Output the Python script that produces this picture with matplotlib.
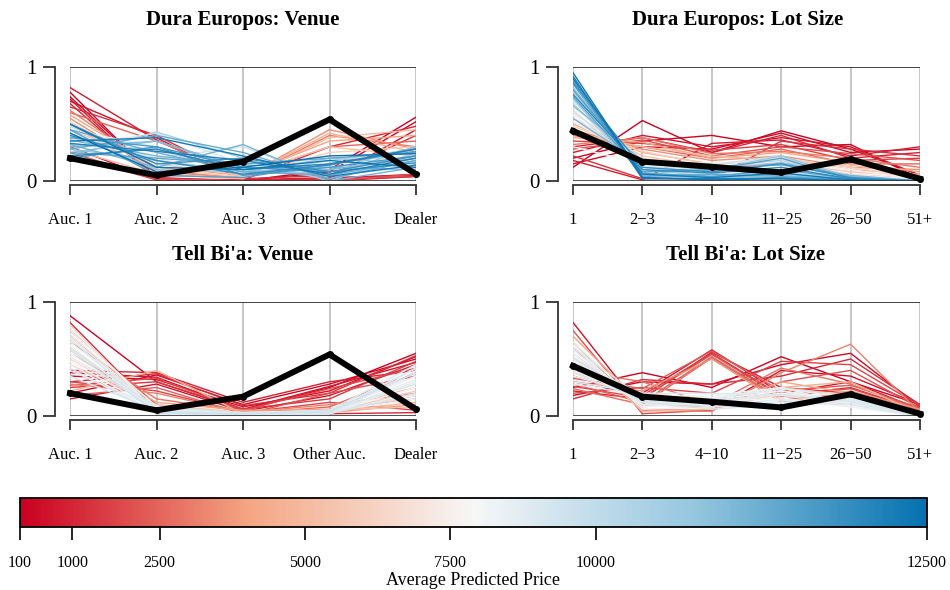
import numpy as np
import matplotlib
matplotlib.use('Agg')
import matplotlib.pyplot as plt
from matplotlib.colors import LinearSegmentedColormap, Normalize
from matplotlib.cm import ScalarMappable

plt.rcParams['font.family'] = ['Liberation Serif', 'DejaVu Serif']

venue_cats = ['Auc. 1', 'Auc. 2', 'Auc. 3', 'Other Auc.', 'Dealer']
lot_cats = ['1', '2\u22123', '4\u221210', '11\u221225', '26\u221250', '51+']

# observed shares (black line)
observed_venue = [0.20, 0.05, 0.17, 0.54, 0.06]
observed_lot = [0.44, 0.17, 0.125, 0.075, 0.19, 0.02]

# Dura Europos: venue  (Auc1, Auc2, Auc3, Other, Dealer)
dura_venue_price = [150, 300, 400, 500, 700, 800, 1000, 1200, 1600, 2000, 2500, 3000,
                    3500, 4000, 4500, 5000, 5500, 6000, 7000, 7800, 8500, 9000, 9500,
                    10000, 10500, 11000, 11500, 11800, 12000, 12200, 12500, 12600,
                    12800, 13000, 13200, 13500, 13800, 14000, 14200, 14500, 14800,
                    15000, 15200, 15500, 15600]
dura_venue_vals = [
    [0.78, 0.02, 0.00, 0.10, 0.56],
    [0.74, 0.03, 0.00, 0.08, 0.52],
    [0.30, 0.01, 0.00, 0.00, 0.04],
    [0.70, 0.38, 0.00, 0.02, 0.45],
    [0.72, 0.00, 0.00, 0.02, 0.06],
    [0.82, 0.36, 0.01, 0.03, 0.05],
    [0.68, 0.02, 0.01, 0.30, 0.48],
    [0.65, 0.40, 0.02, 0.05, 0.40],
    [0.22, 0.01, 0.00, 0.01, 0.04],
    [0.25, 0.02, 0.00, 0.00, 0.06],
    [0.60, 0.35, 0.05, 0.30, 0.35],
    [0.62, 0.10, 0.02, 0.40, 0.30],
    [0.55, 0.08, 0.03, 0.45, 0.28],
    [0.58, 0.12, 0.05, 0.35, 0.40],
    [0.50, 0.05, 0.03, 0.42, 0.25],
    [0.28, 0.06, 0.02, 0.38, 0.45],
    [0.45, 0.15, 0.05, 0.30, 0.22],
    [0.52, 0.10, 0.04, 0.25, 0.30],
    [0.40, 0.20, 0.06, 0.20, 0.20],
    [0.35, 0.25, 0.08, 0.15, 0.18],
    [0.45, 0.30, 0.10, 0.12, 0.15],
    [0.30, 0.42, 0.15, 0.05, 0.12],
    [0.38, 0.20, 0.30, 0.02, 0.20],
    [0.48, 0.15, 0.12, 0.10, 0.22],
    [0.32, 0.28, 0.05, 0.18, 0.28],
    [0.22, 0.43, 0.20, 0.00, 0.25],
    [0.42, 0.10, 0.08, 0.20, 0.15],
    [0.28, 0.18, 0.08, 0.10, 0.30],
    [0.25, 0.35, 0.10, 0.05, 0.30],
    [0.30, 0.35, 0.12, 0.10, 0.20],
    [0.36, 0.22, 0.14, 0.12, 0.10],
    [0.32, 0.12, 0.32, 0.00, 0.12],
    [0.45, 0.25, 0.08, 0.05, 0.18],
    [0.28, 0.40, 0.25, 0.02, 0.18],
    [0.25, 0.20, 0.15, 0.20, 0.25],
    [0.45, 0.05, 0.03, 0.15, 0.26],
    [0.38, 0.30, 0.05, 0.12, 0.22],
    [0.20, 0.30, 0.12, 0.08, 0.22],
    [0.50, 0.15, 0.20, 0.08, 0.16],
    [0.40, 0.18, 0.06, 0.14, 0.28],
    [0.22, 0.28, 0.10, 0.15, 0.28],
    [0.33, 0.26, 0.18, 0.06, 0.20],
    [0.35, 0.38, 0.22, 0.04, 0.14],
    [0.50, 0.12, 0.10, 0.18, 0.12],
    [0.42, 0.08, 0.12, 0.22, 0.24],
]

# Dura Europos: lot size  (1, 2-3, 4-10, 11-25, 26-50, 51+)
dura_lot_price = [150, 250, 400, 600, 800, 1000, 1300, 1600, 2000, 2500, 3000, 3500,
                  4000, 4500, 5000, 5500, 6000, 6500, 7000, 7500, 8000, 8500, 9000,
                  9500, 10000, 10500, 11000, 11500, 12000, 12500, 13000, 13500, 14000,
                  14500, 15000, 15500, 12300, 13300, 14300, 15300]
dura_lot_vals = [
    [0.12, 0.53, 0.25, 0.44, 0.28, 0.05],
    [0.20, 0.35, 0.40, 0.30, 0.32, 0.02],
    [0.15, 0.30, 0.28, 0.42, 0.25, 0.28],
    [0.25, 0.40, 0.30, 0.38, 0.30, 0.05],
    [0.18, 0.01, 0.33, 0.36, 0.22, 0.30],
    [0.30, 0.38, 0.25, 0.40, 0.20, 0.25],
    [0.22, 0.02, 0.02, 0.35, 0.28, 0.22],
    [0.35, 0.33, 0.27, 0.32, 0.18, 0.20],
    [0.28, 0.36, 0.22, 0.30, 0.24, 0.18],
    [0.40, 0.30, 0.20, 0.28, 0.15, 0.15],
    [0.32, 0.38, 0.24, 0.26, 0.20, 0.12],
    [0.45, 0.28, 0.18, 0.22, 0.12, 0.10],
    [0.38, 0.34, 0.20, 0.25, 0.16, 0.08],
    [0.50, 0.25, 0.15, 0.20, 0.10, 0.06],
    [0.42, 0.30, 0.22, 0.18, 0.14, 0.05],
    [0.55, 0.22, 0.12, 0.16, 0.08, 0.04],
    [0.48, 0.26, 0.14, 0.20, 0.12, 0.03],
    [0.60, 0.20, 0.10, 0.15, 0.06, 0.02],
    [0.52, 0.18, 0.12, 0.14, 0.05, 0.02],
    [0.30, 0.15, 0.16, 0.18, 0.10, 0.01],
    [0.65, 0.16, 0.08, 0.12, 0.05, 0.01],
    [0.58, 0.12, 0.15, 0.20, 0.04, 0.01],
    [0.70, 0.14, 0.06, 0.10, 0.03, 0.00],
    [0.62, 0.10, 0.14, 0.22, 0.04, 0.00],
    [0.75, 0.12, 0.05, 0.08, 0.02, 0.00],
    [0.68, 0.08, 0.12, 0.18, 0.03, 0.00],
    [0.78, 0.10, 0.04, 0.06, 0.02, 0.00],
    [0.72, 0.06, 0.10, 0.22, 0.03, 0.00],
    [0.82, 0.05, 0.03, 0.05, 0.01, 0.00],
    [0.55, 0.15, 0.12, 0.14, 0.05, 0.00],
    [0.85, 0.04, 0.06, 0.04, 0.01, 0.00],
    [0.80, 0.08, 0.10, 0.20, 0.02, 0.00],
    [0.88, 0.03, 0.02, 0.03, 0.01, 0.00],
    [0.76, 0.10, 0.07, 0.12, 0.02, 0.00],
    [0.92, 0.02, 0.02, 0.02, 0.00, 0.00],
    [0.95, 0.03, 0.01, 0.02, 0.00, 0.00],
    [0.66, 0.18, 0.09, 0.16, 0.04, 0.00],
    [0.74, 0.07, 0.04, 0.10, 0.02, 0.00],
    [0.86, 0.12, 0.08, 0.15, 0.03, 0.00],
    [0.90, 0.06, 0.03, 0.07, 0.01, 0.00],
]

# Tell Bi'a: venue
tell_venue_price = [200, 350, 500, 700, 900, 1100, 1400, 1700, 2000, 2400, 2800, 3200,
                    3600, 4000, 4500, 5000, 5500, 6000, 6500, 7000, 7500, 8000, 8300,
                    8600, 8900, 9200, 9500, 600, 1200, 1900, 8100, 8200, 8400, 8500,
                    8700, 8800, 9000, 9100]
tell_venue_vals = [
    [0.88, 0.30, 0.05, 0.25, 0.55],
    [0.20, 0.36, 0.10, 0.28, 0.50],
    [0.35, 0.32, 0.08, 0.22, 0.52],
    [0.15, 0.28, 0.04, 0.18, 0.45],
    [0.40, 0.38, 0.12, 0.30, 0.40],
    [0.82, 0.05, 0.02, 0.02, 0.03],
    [0.25, 0.30, 0.06, 0.15, 0.48],
    [0.30, 0.22, 0.03, 0.12, 0.05],
    [0.75, 0.10, 0.01, 0.20, 0.35],
    [0.18, 0.25, 0.02, 0.08, 0.38],
    [0.65, 0.15, 0.04, 0.05, 0.15],
    [0.28, 0.20, 0.03, 0.10, 0.20],
    [0.70, 0.08, 0.02, 0.03, 0.10],
    [0.55, 0.12, 0.05, 0.06, 0.25],
    [0.22, 0.40, 0.02, 0.04, 0.12],
    [0.60, 0.06, 0.01, 0.02, 0.18],
    [0.45, 0.10, 0.03, 0.05, 0.08],
    [0.80, 0.04, 0.02, 0.03, 0.22],
    [0.50, 0.08, 0.01, 0.02, 0.30],
    [0.72, 0.05, 0.02, 0.04, 0.35],
    [0.62, 0.03, 0.01, 0.03, 0.28],
    [0.55, 0.06, 0.02, 0.02, 0.40],
    [0.78, 0.04, 0.03, 0.04, 0.15],
    [0.40, 0.07, 0.01, 0.03, 0.32],
    [0.68, 0.02, 0.02, 0.05, 0.45],
    [0.35, 0.05, 0.00, 0.02, 0.20],
    [0.58, 0.03, 0.02, 0.04, 0.38],
    [0.38, 0.34, 0.06, 0.26, 0.47],
    [0.30, 0.37, 0.09, 0.20, 0.53],
    [0.27, 0.33, 0.05, 0.24, 0.42],
    [0.48, 0.05, 0.02, 0.03, 0.25],
    [0.75, 0.08, 0.01, 0.04, 0.42],
    [0.45, 0.03, 0.03, 0.05, 0.35],
    [0.65, 0.06, 0.01, 0.02, 0.30],
    [0.52, 0.09, 0.02, 0.04, 0.18],
    [0.70, 0.04, 0.02, 0.03, 0.38],
    [0.42, 0.02, 0.01, 0.05, 0.28],
    [0.60, 0.07, 0.03, 0.03, 0.42],
]

# Tell Bi'a: lot size
tell_lot_price = [200, 350, 500, 700, 900, 1100, 1400, 1700, 2000, 2400, 2800, 3200,
                  3600, 4000, 4500, 5000, 5500, 6000, 6500, 7000, 7500, 8000, 8300,
                  8600, 8900, 9200, 1900, 2200, 2600, 8100, 8200, 8400, 8500, 8700,
                  8800, 9000, 9100]
tell_lot_vals = [
    [0.25, 0.38, 0.25, 0.52, 0.30, 0.10],
    [0.18, 0.30, 0.28, 0.45, 0.55, 0.08],
    [0.82, 0.05, 0.05, 0.40, 0.35, 0.10],
    [0.30, 0.20, 0.58, 0.20, 0.30, 0.06],
    [0.22, 0.15, 0.56, 0.25, 0.20, 0.08],
    [0.15, 0.32, 0.28, 0.35, 0.50, 0.10],
    [0.35, 0.18, 0.55, 0.18, 0.25, 0.05],
    [0.20, 0.25, 0.20, 0.48, 0.45, 0.09],
    [0.75, 0.02, 0.05, 0.30, 0.40, 0.07],
    [0.28, 0.12, 0.52, 0.15, 0.20, 0.04],
    [0.40, 0.30, 0.10, 0.42, 0.28, 0.05],
    [0.65, 0.05, 0.04, 0.38, 0.63, 0.03],
    [0.30, 0.22, 0.50, 0.12, 0.22, 0.06],
    [0.70, 0.10, 0.08, 0.30, 0.20, 0.04],
    [0.45, 0.15, 0.12, 0.25, 0.30, 0.02],
    [0.60, 0.04, 0.06, 0.20, 0.15, 0.03],
    [0.50, 0.18, 0.10, 0.22, 0.12, 0.02],
    [0.38, 0.20, 0.15, 0.25, 0.18, 0.01],
    [0.55, 0.08, 0.12, 0.18, 0.10, 0.01],
    [0.42, 0.12, 0.10, 0.20, 0.15, 0.00],
    [0.62, 0.06, 0.08, 0.15, 0.08, 0.00],
    [0.48, 0.15, 0.14, 0.22, 0.12, 0.00],
    [0.35, 0.18, 0.18, 0.25, 0.10, 0.00],
    [0.58, 0.10, 0.10, 0.12, 0.14, 0.00],
    [0.30, 0.20, 0.20, 0.18, 0.15, 0.00],
    [0.52, 0.12, 0.06, 0.10, 0.18, 0.00],
    [0.26, 0.16, 0.54, 0.17, 0.24, 0.05],
    [0.33, 0.24, 0.57, 0.22, 0.27, 0.07],
    [0.24, 0.10, 0.51, 0.14, 0.21, 0.04],
    [0.45, 0.14, 0.16, 0.24, 0.16, 0.00],
    [0.65, 0.08, 0.12, 0.20, 0.12, 0.00],
    [0.40, 0.16, 0.12, 0.16, 0.08, 0.00],
    [0.55, 0.12, 0.18, 0.22, 0.14, 0.00],
    [0.28, 0.18, 0.10, 0.14, 0.12, 0.00],
    [0.50, 0.10, 0.15, 0.24, 0.17, 0.00],
    [0.38, 0.14, 0.08, 0.12, 0.10, 0.00],
    [0.60, 0.16, 0.14, 0.19, 0.13, 0.00],
]

cbar_ticks = [100, 1000, 2500, 5000, 7500, 10000, 15700]
cbar_labels = ['100', '1000', '2500', '5000', '7500', '10000', '12500']

cmap = LinearSegmentedColormap.from_list(
    'rdbu5', ['#CA0020', '#F4A582', '#F7F7F7', '#92C5DE', '#0571B0'])
norm = Normalize(vmin=100, vmax=15700)

W, H = 950, 590
fig = plt.figure(figsize=(W / 100, H / 100), dpi=100)


def px_rect(x0, x1, ytop, ybot):
    return [x0 / W, 1 - ybot / H, (x1 - x0) / W, (ybot - ytop) / H]


def draw_panel(rect, cats, prices, vals, observed, title, tx, ty):
    ax = fig.add_axes(rect)
    x = np.arange(len(cats))
    for c in x:
        ax.axvline(c, color='#bdbdbd', lw=1.2, zorder=0)
    for i in np.argsort(prices):
        ax.plot(x, vals[i], color=cmap(norm(prices[i])), lw=1.0, zorder=2)
    ax.axhline(0, color='#333333', lw=1.2, zorder=3)
    ax.axhline(1, color='#222222', lw=1.2, zorder=3)
    ax.plot(x, observed, color='black', lw=4.3, marker='o', ms=4,
            zorder=5, clip_on=False)
    ax.set_xlim(0, len(cats) - 1)
    ax.set_ylim(0, 1)
    ax.spines['top'].set_visible(False)
    ax.spines['right'].set_visible(False)
    ax.spines['left'].set_position(('outward', 10.8))
    ax.spines['bottom'].set_position(('outward', 3))
    for s in ('left', 'bottom'):
        ax.spines[s].set_linewidth(1.3)
        ax.spines[s].set_color('#333333')
    ax.set_yticks([0, 1])
    ax.set_yticklabels(['0', '1'], fontsize=15)
    ax.set_xticks(x)
    ax.set_xticklabels(cats, fontsize=12)
    ax.tick_params(axis='y', length=8.5, width=1.3, color='#333333', pad=5)
    ax.tick_params(axis='x', length=7.5, width=1.3, color='#333333', pad=12)
    fig.text(tx / W, 1 - ty / H, title, ha='center', va='center',
             fontsize=15, fontweight='bold')
    return ax


draw_panel(px_rect(70, 416, 67, 181), venue_cats, dura_venue_price, dura_venue_vals,
           observed_venue, 'Dura Europos: Venue', 243, 20)
draw_panel(px_rect(573, 920, 67, 181), lot_cats, dura_lot_price, dura_lot_vals,
           observed_lot, 'Dura Europos: Lot Size', 738, 20)
draw_panel(px_rect(70, 416, 302, 416), venue_cats, tell_venue_price, tell_venue_vals,
           observed_venue, "Tell Bi'a: Venue", 243, 255)
draw_panel(px_rect(573, 920, 302, 416), lot_cats, tell_lot_price, tell_lot_vals,
           observed_lot, "Tell Bi'a: Lot Size", 745, 255)

# colour bar
cax = fig.add_axes(px_rect(20, 927, 498, 527))
sm = ScalarMappable(norm=norm, cmap=cmap)
cb = fig.colorbar(sm, cax=cax, orientation='horizontal')
cb.outline.set_linewidth(1.3)
cb.set_ticks(cbar_ticks)
cb.set_ticklabels(cbar_labels)
cax.tick_params(length=9, width=1.2, labelsize=11.5, pad=11)
cb.set_label('Average Predicted Price', fontsize=13, labelpad=1)

fig.savefig('out.png', dpi=100)
